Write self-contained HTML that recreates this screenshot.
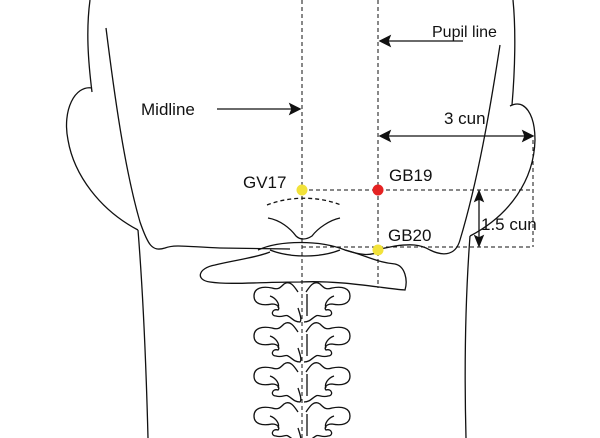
<!DOCTYPE html>
<html><head><style>
html,body{margin:0;padding:0;background:#fff}
svg{display:block}
text{font-family:"Liberation Sans",sans-serif;fill:#111}
</style></head><body>
<svg width="600" height="438" viewBox="0 0 600 438" xmlns="http://www.w3.org/2000/svg">
<defs>
<g id="vt" fill="none" stroke="#111" stroke-width="1.3">
<path d="M-4,10 C-8,4 -12,-2 -18,2 C-22,6 -24,8 -30,6 C-40,4 -48,6 -48,14 C-48,22 -40,24 -30,22 C-24,22 -22,26 -24,28 C-30,26 -32,34 -26,34 C-20,36 -16,32 -14,34 C-10,36 -8,40 -2,40 C0,38 -2,32 -4,26"/>
<path d="M4,10 C8,4 12,-2 18,2 C22,6 24,8 30,6 C40,4 48,6 48,14 C48,22 40,24 30,22 C24,22 22,26 24,28 C30,26 32,34 26,34 C20,36 16,32 14,34 C10,36 8,40 2,40"/>
<path d="M-32,14 C-26,16 -22,22 -24,26"/><path d="M32,14 C26,16 22,22 24,26"/>
<path d="M5,12 L5,34"/>
</g>
</defs>
<g fill="none" stroke="#111" stroke-width="1.3">
<path d="M90,0 C86,30 88,60 92,92"/>
<path d="M513,0 C516,30 515,70 512,105"/>
<path d="M92,88 C75,85 62,110 68,140 C74,175 100,210 138,230"/>
<path d="M510,106 C525,98 535,115 535,140 C534,180 510,215 470,236"/>
<path d="M106,28 C115,100 125,170 140,222 C148,245 152,252 165,248 C175,244 190,247 220,248 L290,249"/>
<path d="M500,45 C490,110 478,180 460,240 C455,258 440,255 430,250 C420,244 410,244 395,246 L380,249"/>
<path d="M138,230 C142,280 146,360 148,438"/>
<path d="M470,236 C466,290 464,360 466,438"/>
<path d="M268,218 C280,220 290,228 296,236 C300,240 306,240 312,236 C318,228 330,220 340,218"/>
<path d="M267,205 C290,196 318,196 341,205" stroke-dasharray="4,3"/>
<path d="M258,250 C280,240 320,240 345,250 C360,255 370,256 378,252"/>
<path d="M270,250 C290,258 320,258 340,250"/>
<path d="M345,250 C365,255 375,262 395,264 C405,266 408,280 405,290 C380,288 340,280 300,282 C260,282 230,285 210,282 C195,280 198,268 215,265 C235,260 255,258 270,252"/>
<g stroke-dasharray="4,3" stroke-width="1">
<line x1="302" y1="0" x2="302" y2="438"/>
<line x1="378" y1="0" x2="378" y2="288"/>
<line x1="302" y1="190" x2="533" y2="190"/>
<line x1="302" y1="247" x2="533" y2="247"/>
<line x1="533" y1="140" x2="533" y2="247"/>
</g>
</g>
<use href="#vt" x="302" y="282"/>
<use href="#vt" x="302" y="322"/>
<use href="#vt" x="302" y="362"/>
<use href="#vt" x="302" y="402"/>
<g stroke="#111" stroke-width="1.3" fill="#111">
<line x1="217" y1="109" x2="296" y2="109"/><path d="M300,109 L290,104 L292,109 L290,114Z"/>
<line x1="384" y1="41" x2="463" y2="41"/><path d="M380,41 L390,36 L388,41 L390,46Z"/>
<line x1="384" y1="136" x2="529" y2="136"/><path d="M380,136 L390,131 L388,136 L390,141Z"/><path d="M533,136 L523,131 L525,136 L523,141Z"/>
<line x1="479" y1="195" x2="479" y2="242"/><path d="M479,191 L475,201 L479,199 L483,201Z"/><path d="M479,246 L475,236 L479,238 L483,236Z"/>
</g>
<circle cx="302" cy="190" r="5.5" fill="#f2e23a"/>
<circle cx="378" cy="190" r="5.5" fill="#e52222"/>
<circle cx="378" cy="250" r="5.5" fill="#f2e23a"/>
<text x="141" y="115" font-size="17">Midline</text>
<text x="432" y="37" font-size="16">Pupil line</text>
<text x="444" y="124" font-size="17">3 cun</text>
<text x="243" y="188" font-size="17">GV17</text>
<text x="389" y="181" font-size="17">GB19</text>
<text x="388" y="241" font-size="17">GB20</text>
<text x="481" y="230" font-size="17">1.5 cun</text>
</svg>
</body></html>
